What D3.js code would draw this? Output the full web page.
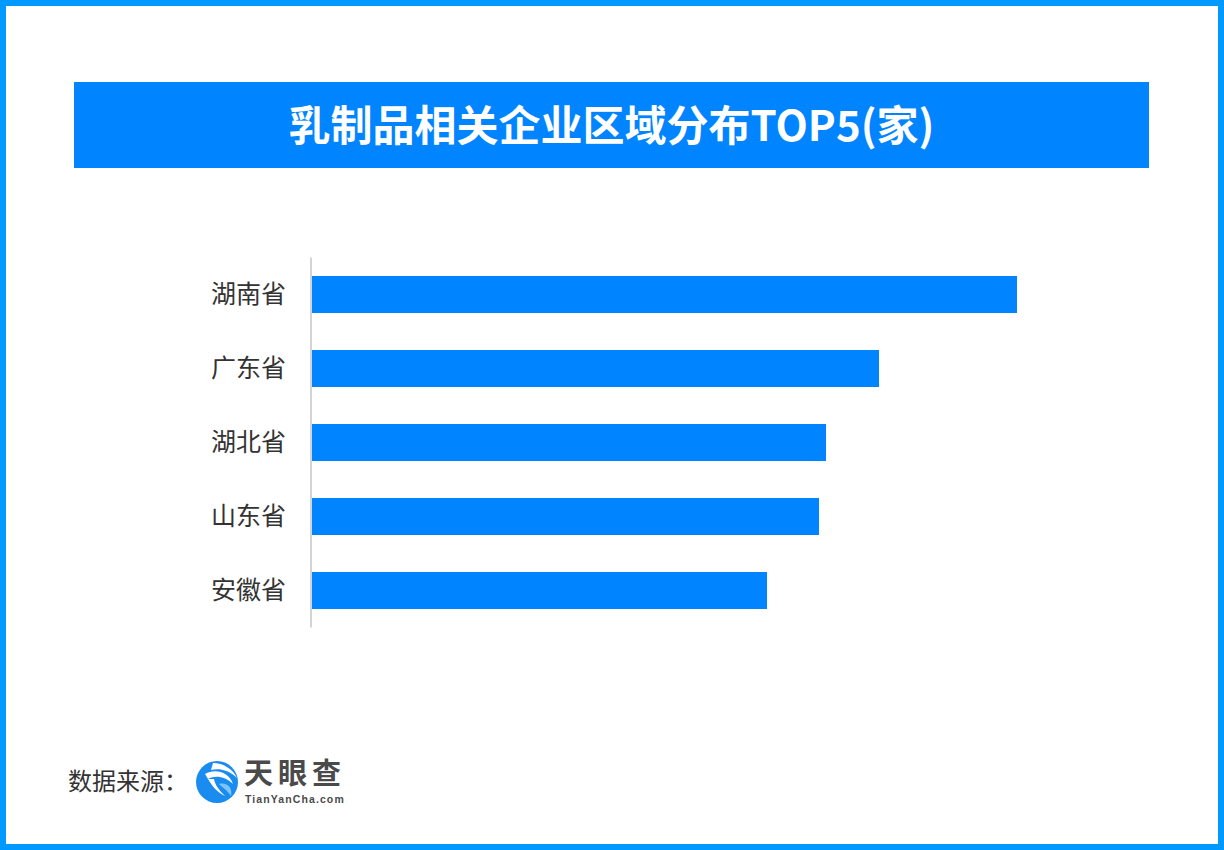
<!DOCTYPE html>
<html>
<head>
<meta charset="utf-8">
<script src="https://cdn.jsdelivr.net/npm/d3@7"></script>
<style>
  html, body { margin: 0; padding: 0; background: #fff; }
  svg { display: block; }
</style>
</head>
<body>
<div id="chart"></div>
<script>
// Data (no value labels shown, lengths estimated)
var provinces = ["湖南省", "广东省", "湖北省", "山东省", "安徽省"];
var counts = [705, 567, 514, 507, 455];
var titleText = "乳制品相关企业区域分布TOP5(家)";
var sourceLabel = "数据来源：";

var W = 1224, H = 850;
var fontCN = "'Noto Sans CJK SC', 'Noto Sans', sans-serif";

var svg = d3.select("#chart")
  .append("svg")
    .attr("width", W)
    .attr("height", H);

// outer frame
svg.append("rect")
    .attr("x", 3)
    .attr("y", 3)
    .attr("width", W - 6)
    .attr("height", H - 6)
    .attr("fill", "none")
    .attr("stroke", "#0099ff")
    .attr("stroke-width", 6);

// title band
svg.append("rect")
    .attr("x", 74)
    .attr("y", 82)
    .attr("width", 1075)
    .attr("height", 86)
    .attr("fill", "#0084ff");

svg.append("text")
    .attr("x", 611.5)
    .attr("y", 126)
    .attr("dy", "0.35em")
    .attr("text-anchor", "middle")
    .attr("fill", "#fff")
    .style("font-family", fontCN)
    .style("font-weight", "bold")
    .style("font-size", "42px")
    .text(titleText);

// scales
var x = d3.scaleLinear()
    .domain([0, d3.max(counts)])
    .range([312, 1017]);

var y = d3.scaleBand()
    .domain(provinces)
    .range([257.5, 627.5])
    .paddingInner(0.5)
    .paddingOuter(0.25);

var rows = provinces.map(function (p, i) { return {name: p, value: counts[i]}; });

// bars
svg.append("g")
  .selectAll("rect")
  .data(rows)
  .enter()
  .append("rect")
    .attr("x", x(0))
    .attr("y", function (d) { return y(d.name); })
    .attr("width", function (d) { return x(d.value) - x(0); })
    .attr("height", y.bandwidth())
    .attr("fill", "#0084ff");

// category axis
var yAxis = svg.append("g")
    .attr("transform", "translate(311,0)")
    .call(d3.axisLeft(y).tickSize(0).tickPadding(25));

yAxis.select(".domain")
    .attr("d", "M0," + 257.5 + "V" + 627.5)
    .attr("stroke", "#d4d4d4")
    .attr("stroke-width", 2);

yAxis.selectAll("text")
    .attr("fill", "#333")
    .style("font-family", fontCN)
    .style("font-size", "25px");

// source footer
svg.append("text")
    .attr("x", 68)
    .attr("y", 782)
    .attr("dy", "0.35em")
    .attr("fill", "#333")
    .style("font-family", fontCN)
    .style("font-size", "24px")
    .text(sourceLabel);

// logo mark
var logo = svg.append("g")
    .attr("transform", "translate(217,782)");

logo.append("circle")
    .attr("r", 21)
    .attr("fill", "#1a8cf0");

logo.append("path")
    .attr("d", "M-4,-19 C6,-19 16,-13 20,-4 C12,-12 2,-14 -6,-12 Z")
    .attr("fill", "#fff");
logo.append("path")
    .attr("d", "M-12,-8 C-2,-14 12,-10 16,2 C8,-6 -2,-7 -9,-3 Z")
    .attr("fill", "#fff");
logo.append("path")
    .attr("d", "M-9,-3 C-5,4 0,10 8,14 C2,8 -2,3 -3,-3 Z")
    .attr("fill", "#fff");
logo.append("path")
    .attr("d", "M2,2 C10,0 16,6 14,14 C10,8 6,6 2,2 Z")
    .attr("fill", "#7cc4ff");

svg.append("text")
    .attr("x", 244)
    .attr("y", 784)
    .attr("fill", "#4a4a4a")
    .style("font-family", fontCN)
    .style("font-weight", "bold")
    .style("font-size", "29px")
    .style("letter-spacing", "5px")
    .text("天眼查");

svg.append("text")
    .attr("x", 245)
    .attr("y", 803)
    .attr("fill", "#4a4a4a")
    .style("font-family", "'Liberation Sans', Arial, sans-serif")
    .style("font-weight", "bold")
    .style("font-size", "10.5px")
    .style("letter-spacing", "1.1px")
    .text("TianYanCha.com");
</script>
</body>
</html>
